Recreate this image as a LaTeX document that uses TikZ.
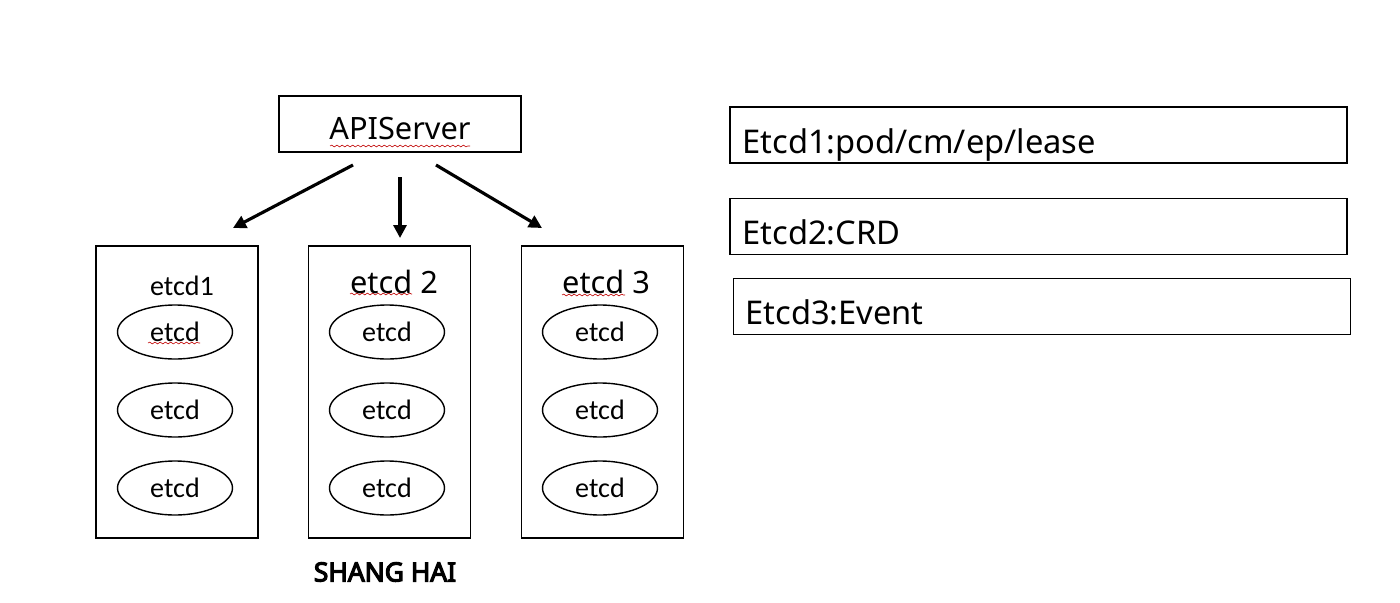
\documentclass[tikz,border=0pt]{standalone}
\usepackage{fontspec}
\setmainfont{Noto Sans}
\newfontfamily\calfont{Carlito}
\newfontfamily\cityfont[FakeBold=4.5]{Noto Sans}
\usetikzlibrary{positioning,arrows.meta,calc,shapes.geometric,decorations.pathmorphing}
\tikzset{
  flow/.style={-{Triangle[length=2.6mm,width=2.6mm]},line width=1.8pt},
  apibox/.style={draw,line width=0.8pt,minimum width=4.84cm,minimum height=1.12cm,
    inner sep=0pt,text height=18pt,text depth=0pt,font=\fontsize{17.5}{20}\selectfont},
  groupbox/.style={draw,line width=0.8pt,minimum width=3.24cm,minimum height=5.84cm,inner sep=0pt},
  grouptitle/.style={inner sep=0pt,font=\fontsize{17.5}{20}\selectfont},
  smalltitle/.style={inner sep=0pt,font=\calfont\fontsize{16}{18}\selectfont},
  member/.style={draw,ellipse,line width=0.8pt,minimum width=2.3cm,minimum height=1.08cm,
    inner sep=0pt,font=\calfont\fontsize{16}{18}\selectfont},
  listbox/.style={draw,line width=0.8pt,minimum width=12.34cm,minimum height=1.12cm,inner sep=0pt},
  listtext/.style={anchor=base west,inner sep=0pt,font=\fontsize{18.6}{22}\selectfont},
  squiggle/.style={draw=red!75!black,line width=0.35pt,
    decorate,decoration={snake,amplitude=0.5pt,segment length=3pt}}
}
\begin{document}
\begin{tikzpicture}[x=0.02cm,y=-0.02cm]
  \useasboundingbox (0,0) rectangle (1400,602);
  % api server
  \node[apibox] (api) at (400,124) {APIServer};
  \draw[squiggle] (330,146) -- (470,146);
  % etcd groups
  \node[groupbox] (grp1) at (177,392) {};
  \node[groupbox] (grp2) at (389.5,392) {};
  \node[groupbox] (grp3) at (602.5,392) {};
  \node[smalltitle] (title1) at (182,286) {etcd1};
  \node[grouptitle] (title2) at (394,282) {etcd 2};
  \node[grouptitle] (title3) at (606,282) {etcd 3};
  \draw[squiggle] (350,294) -- (412,294);
  \draw[squiggle] (562,295) -- (625,295);
  \foreach \g/\cx in {1/175,2/387,3/600}{
    \node[member] (m\g a) at (\cx,332) {etcd};
    \node[member] (m\g b) at (\cx,410) {etcd};
    \node[member] (m\g c) at (\cx,488) {etcd};
  }
  \draw[squiggle] (148,343) -- (200,343);
  \node[font=\cityfont\fontsize{15}{18}\selectfont,inner sep=0pt] (city) at (385,572) {SHANG HAI};
  % arrows
  \coordinate (fromL) at (353,165);
  \coordinate (fromM) at (400,177);
  \coordinate (fromR) at (436,165);
  \coordinate (toL) at (233,228);
  \coordinate (toM) at (400,238);
  \coordinate (toR) at (542,228);
  \draw[flow] (fromL) -- (toL);
  \draw[flow] (fromM) -- (toM);
  \draw[flow] (fromR) -- (toR);
  % resource split
  \node[listbox] (listA) at (1038.5,135) {};
  \node[listbox] (listB) at (1038.5,226.5) {};
  \node[listbox] (listC) at (1042,306.5) {};
  \node[listtext] (textA) at (742,153) {Etcd1:pod/cm/ep/lease};
  \node[listtext] (textB) at (742,244) {Etcd2:CRD};
  \node[listtext] (textC) at (745,324) {Etcd3:Event};
\end{tikzpicture}
\end{document}
